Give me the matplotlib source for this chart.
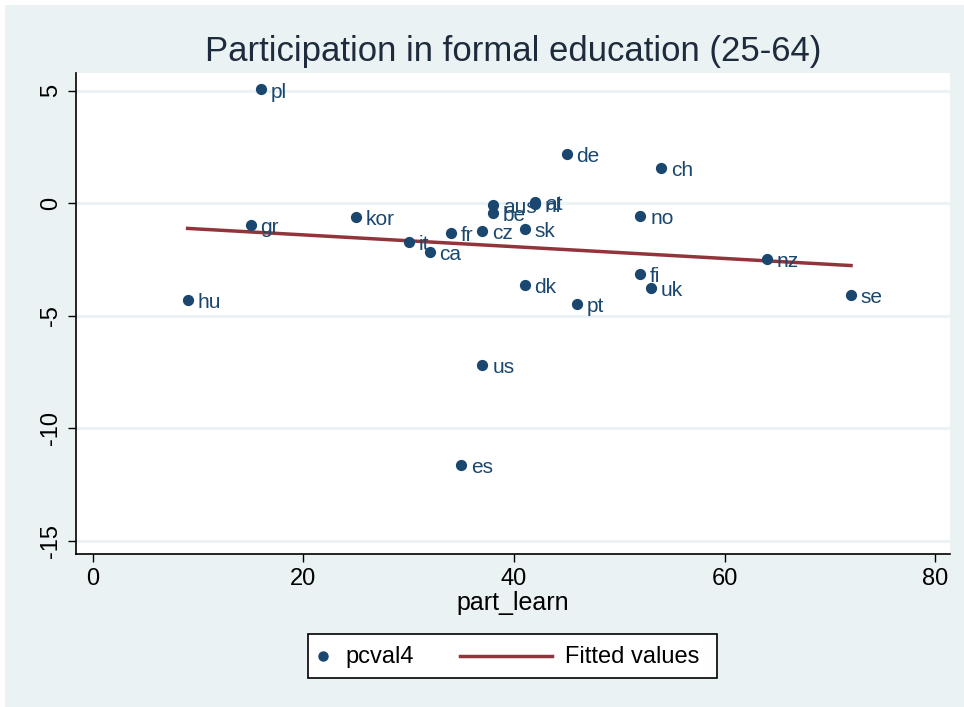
import matplotlib.pyplot as plt
from matplotlib.patches import Rectangle
from matplotlib.lines import Line2D
import numpy as np

# country codes, participation (part_learn) and pcval4
countries = ["pl", "de", "ch", "aus", "be", "at", "nl", "kor", "gr", "no",
             "it", "ca", "fr", "cz", "sk", "nz", "fi", "uk", "se", "hu",
             "dk", "pt", "us", "es"]
part_learn = [16, 45, 54, 38, 38, 42, 42, 25, 15, 52,
              30, 32, 34, 37, 41, 64, 52, 53, 72, 9,
              41, 46, 37, 35]
pcval4 = [5.05, 2.2, 1.55, -0.08, -0.45, 0.05, -0.03, -0.6, -0.97, -0.58,
          -1.73, -2.18, -1.33, -1.24, -1.16, -2.49, -3.16, -3.78, -4.09, -4.31,
          -3.64, -4.49, -7.2, -11.64]

x = np.array(part_learn, dtype=float)
y = np.array(pcval4, dtype=float)
slope, intercept = np.polyfit(x, y, 1)
xfit = np.array([x.min(), x.max()])
yfit = intercept + slope * xfit

navy = "#1a476f"
red = "#90353b"
bg = "#eaf2f3"

plt.rcParams["font.family"] = ["Liberation Sans", "DejaVu Sans"]

W, H = 964, 707
fig = plt.figure(figsize=(W / 100, H / 100), dpi=100)
fig.patches.append(Rectangle((5 / W, 0), 1, 702 / H, transform=fig.transFigure,
                             facecolor=bg, edgecolor="none", zorder=-10))

ax = fig.add_axes([76 / W, 1 - 554 / H, 874 / W, 481 / H])
ax.set_facecolor("white")

ax.scatter(x, y, s=50, color=navy, zorder=3)
ax.plot(xfit, yfit, color=red, linewidth=2.5, zorder=2)

for c, xi, yi in zip(countries, x, y):
    ax.annotate(c, (xi, yi), xytext=(7, -2), textcoords="offset points",
                ha="left", va="center", fontsize=15, color=navy)

ax.set_xlim(-1.6, 81.4)
ax.set_ylim(-15.6, 5.78)
ax.set_xticks([0, 20, 40, 60, 80])
ax.set_yticks([5, 0, -5, -10, -15])
ax.set_yticklabels(["5", "0", "-5", "-10", "-15"], rotation=90, va="center")
ax.tick_params(labelsize=17, length=6, width=1, color="black", pad=4)
ax.grid(axis="y", color=bg, linewidth=2)
ax.set_axisbelow(True)
for s in ["top", "right"]:
    ax.spines[s].set_visible(False)
ax.spines["left"].set_linewidth(1.2)
ax.spines["bottom"].set_linewidth(1.2)

ax.set_xlabel("part_learn", fontsize=18, labelpad=1)
fig.text(513 / W, 1 - 52 / H, "Participation in formal education (25-64)",
         ha="center", va="center", fontsize=25, color="#1e2b3c")

# legend drawn in figure pixels
def fx(px):
    return px / W

def fy(py):
    return 1 - py / H

fig.patches.append(Rectangle((fx(308), fy(678)), fx(717) - fx(308), fy(634) - fy(678),
                             transform=fig.transFigure, facecolor="white",
                             edgecolor="black", linewidth=1.2, zorder=5))
fig.lines.append(Line2D([fx(323)], [fy(656)], transform=fig.transFigure, marker="o",
                        markersize=6.5, color=navy, linestyle="none", zorder=6))
fig.text(fx(345), fy(657), "pcval4", ha="left", va="center", fontsize=17, zorder=6)
fig.lines.append(Line2D([fx(460), fx(552)], [fy(656), fy(656)], transform=fig.transFigure,
                        color=red, linewidth=2.5, zorder=6))
fig.text(fx(565), fy(657), "Fitted values", ha="left", va="center", fontsize=17, zorder=6)

fig.savefig("out.png", dpi=100)
